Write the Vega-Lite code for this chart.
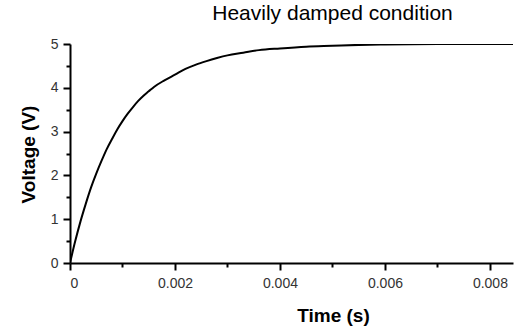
{
  "$schema": "https://vega.github.io/schema/vega-lite/v6.json",
  "width": 443,
  "height": 219,
  "autosize": {"type": "none"},
  "padding": {"left": 70, "top": 44, "right": 4, "bottom": 63},
  "background": "white",
  "title": {
    "text": "Heavily damped condition",
    "font": "Liberation Sans",
    "fontSize": 21,
    "fontWeight": "normal",
    "color": "black",
    "anchor": "middle",
    "dx": 41,
    "dy": 25,
    "offset": 17,
    "baseline": "bottom"
  },
  "config": {
    "view": {"stroke": null},
    "axis": {
      "domainColor": "black",
      "domainWidth": 2,
      "tickColor": "black",
      "tickWidth": 2,
      "grid": false,
      "labelFont": "Liberation Sans",
      "labelFontSize": 14,
      "labelColor": "#333333",
      "labelOverlap": false,
      "titleFont": "Liberation Sans",
      "titleFontSize": 19,
      "titleFontWeight": "bold",
      "titleColor": "black"
    }
  },
  "data": {
    "values": [
      {"t": 0, "v": 0},
      {"t": 0.0001, "v": 0.5},
      {"t": 0.0002, "v": 0.95},
      {"t": 0.0003, "v": 1.35},
      {"t": 0.0004, "v": 1.72},
      {"t": 0.0005, "v": 2.04},
      {"t": 0.0006, "v": 2.33},
      {"t": 0.0007, "v": 2.6},
      {"t": 0.0008, "v": 2.83},
      {"t": 0.0009, "v": 3.05},
      {"t": 0.001, "v": 3.24},
      {"t": 0.0011, "v": 3.41},
      {"t": 0.0012, "v": 3.56},
      {"t": 0.0013, "v": 3.7},
      {"t": 0.0014, "v": 3.82},
      {"t": 0.0015, "v": 3.92},
      {"t": 0.0016, "v": 4.02},
      {"t": 0.0018, "v": 4.17},
      {"t": 0.002, "v": 4.3},
      {"t": 0.0022, "v": 4.43},
      {"t": 0.0024, "v": 4.53},
      {"t": 0.0026, "v": 4.61},
      {"t": 0.0028, "v": 4.68},
      {"t": 0.003, "v": 4.74},
      {"t": 0.0033, "v": 4.8},
      {"t": 0.0036, "v": 4.86},
      {"t": 0.004, "v": 4.9},
      {"t": 0.0045, "v": 4.94},
      {"t": 0.005, "v": 4.96},
      {"t": 0.0055, "v": 4.98},
      {"t": 0.006, "v": 4.99},
      {"t": 0.007, "v": 5.0},
      {"t": 0.0085, "v": 5.0}
    ]
  },
  "mark": {"type": "line", "color": "black", "strokeWidth": 2, "clip": true, "interpolate": "monotone"},
  "encoding": {
    "x": {
      "field": "t",
      "type": "quantitative",
      "scale": {"domain": [0, 0.00844], "nice": false, "zero": false},
      "axis": {
        "title": "Time (s)",
        "values": [0, 0.001, 0.002, 0.003, 0.004, 0.005, 0.006, 0.007, 0.008],
        "format": ".3~f",
        "labelExpr": "round(datum.value*1000) % 2 == 0 ? datum.label : ''",
        "tickSize": {"condition": {"test": "round(datum.value*1000) % 2 == 0", "value": 7}, "value": 4},
        "labelPadding": 6,
        "titleX": 263,
        "titleY": 58,
        "titleAnchor": null,
        "titleBaseline": "alphabetic"
      }
    },
    "y": {
      "field": "v",
      "type": "quantitative",
      "scale": {"domain": [0, 5], "nice": false},
      "axis": {
        "title": "Voltage (V)",
        "values": [0, 0.5, 1, 1.5, 2, 2.5, 3, 3.5, 4, 4.5, 5],
        "format": ".1~f",
        "labelExpr": "datum.value % 1 == 0 ? datum.label : ''",
        "tickSize": {"condition": {"test": "datum.value % 1 == 0", "value": 7}, "value": 4},
        "labelPadding": 5,
        "titleX": -36,
        "titleY": 110,
        "titleAlign": "center",
        "titleBaseline": "alphabetic"
      }
    }
  }
}
